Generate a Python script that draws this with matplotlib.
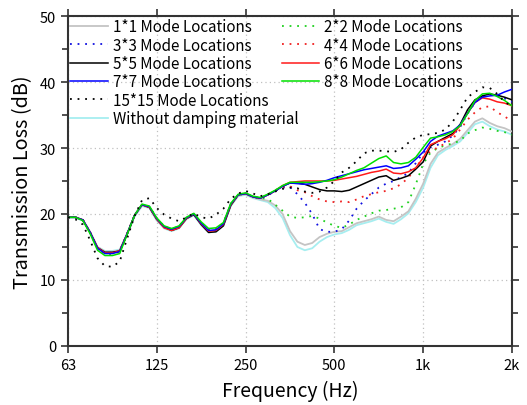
import matplotlib.pyplot as plt
from matplotlib.lines import Line2D
from matplotlib.ticker import FixedLocator, MultipleLocator, NullLocator

plt.rcParams['font.family'] = ['Noto Sans CJK JP', 'DejaVu Sans']

# 1/12-octave frequency points (Hz)
freq = [62.5, 66.2, 70.2, 74.3, 78.7, 83.4, 88.4, 93.6, 99.2, 105.1, 111.4, 118.0,
        125, 132.4, 140.3, 148.7, 157.5, 166.9, 176.8, 187.3, 198.4, 210.2, 222.7, 236.0,
        250, 264.9, 280.6, 297.3, 315.0, 333.7, 353.6, 374.6, 396.9, 420.4, 445.4, 471.9,
        500, 529.7, 561.2, 594.6, 630.0, 667.4, 707.1, 749.2, 793.7, 840.9, 890.9, 943.9,
        1000, 1059, 1122, 1189, 1260, 1335, 1414, 1498, 1587, 1682, 1782, 1888, 2000]

# transmission loss (dB)
tl_1x1 = [19.5, 19.5, 19.1, 17.3, 15.0, 14.3, 14.3, 14.5, 17.0, 19.7, 21.3, 21.0,
          19.1, 17.9, 17.5, 17.9, 19.3, 19.9, 18.4, 17.3, 17.4, 18.3, 21.3, 22.8,
          23.0, 22.5, 22.2, 22.0, 21.3, 20.0, 17.4, 15.8, 15.3, 15.6, 16.5, 17.0,
          17.3, 17.4, 18.0, 18.6, 18.9, 19.2, 19.6, 19.1, 18.9, 19.6, 20.4, 22.3,
          24.6, 27.6, 29.3, 30.0, 30.6, 31.4, 32.7, 34.0, 34.5, 33.8, 33.3, 33.0, 32.5]
tl_2x2 = [19.5, 19.5, 19.1, 17.2, 14.8, 14.0, 14.0, 14.3, 17.0, 19.8, 21.4, 21.1,
          19.3, 18.1, 17.7, 18.1, 19.4, 20.0, 18.6, 17.6, 17.7, 18.5, 21.5, 22.9,
          23.1, 22.6, 22.4, 22.3, 21.4, 20.5, 19.6, 19.4, 19.5, 19.7, 19.3, 18.7,
          18.2, 17.9, 18.4, 19.1, 19.6, 20.1, 20.5, 20.6, 20.8, 21.0, 21.8, 24.5,
          27.6, 29.3, 30.0, 30.4, 30.7, 31.1, 32.2, 32.7, 33.1, 32.9, 32.6, 32.4, 32.0]
tl_3x3 = [19.5, 19.5, 19.1, 17.2, 14.8, 14.0, 14.0, 14.3, 17.0, 19.8, 21.4, 21.1,
          19.3, 18.1, 17.7, 18.1, 19.4, 20.0, 18.6, 17.6, 17.7, 18.5, 21.5, 22.9,
          23.1, 22.6, 22.4, 22.8, 23.5, 24.0, 24.1, 23.0, 21.7, 20.0, 17.7, 17.3,
          17.3, 17.7, 19.0, 20.8, 22.0, 23.0, 24.0, 24.6, 25.0, 25.6, 26.2, 27.7,
          29.3, 30.1, 30.5, 31.0, 31.9, 33.2, 35.2, 36.9, 37.8, 38.2, 37.9, 37.5, 37.0]
tl_4x4 = [19.5, 19.5, 19.1, 17.2, 14.8, 14.0, 14.0, 14.3, 17.0, 19.8, 21.4, 21.1,
          19.3, 18.1, 17.7, 18.1, 19.4, 20.0, 18.6, 17.6, 17.7, 18.5, 21.5, 22.9,
          23.1, 22.6, 22.4, 22.9, 23.6, 24.1, 24.2, 23.6, 23.3, 22.7, 22.2, 21.9,
          21.8, 21.9, 21.8, 22.2, 22.7, 23.0, 23.3, 23.5, 23.9, 24.5, 25.5, 27.0,
          28.6, 29.5, 30.1, 30.7, 31.4, 32.8, 34.3, 35.4, 36.2, 36.3, 35.4, 34.8, 34.0]
tl_5x5 = [19.5, 19.5, 19.1, 17.2, 14.9, 14.2, 14.2, 14.4, 17.0, 19.8, 21.4, 21.0,
          19.2, 18.0, 17.5, 17.9, 19.3, 19.9, 18.4, 17.2, 17.3, 18.2, 21.3, 22.9,
          23.1, 22.6, 22.4, 22.9, 23.5, 24.2, 24.7, 24.7, 24.5, 24.1, 23.7, 23.5,
          23.5, 23.4, 23.6, 24.1, 24.6, 25.1, 25.6, 25.8, 25.1, 25.4, 25.8, 26.8,
          27.9, 30.3, 31.0, 31.6, 32.2, 33.6, 35.8, 37.3, 37.9, 38.2, 38.0, 37.7, 37.3]
tl_6x6 = [19.5, 19.5, 19.1, 17.2, 14.9, 14.1, 14.1, 14.4, 17.0, 19.8, 21.4, 21.0,
          19.2, 17.9, 17.5, 17.9, 19.3, 20.0, 18.5, 17.4, 17.5, 18.4, 21.4, 22.9,
          23.1, 22.6, 22.4, 22.9, 23.5, 24.3, 24.8, 24.9, 25.0, 25.0, 25.0, 25.0,
          25.1, 25.3, 25.5, 25.7, 26.0, 26.3, 26.5, 26.8, 26.2, 26.1, 26.4, 27.0,
          28.5, 30.5, 31.0, 31.4, 32.0, 33.4, 35.3, 36.9, 37.6, 37.4, 37.0, 36.8, 36.4]
tl_7x7 = [19.5, 19.5, 19.1, 17.2, 14.8, 14.0, 14.0, 14.3, 17.0, 19.8, 21.4, 21.1,
          19.3, 18.1, 17.7, 18.1, 19.4, 20.0, 18.6, 17.5, 17.6, 18.5, 21.5, 22.9,
          23.1, 22.6, 22.4, 22.9, 23.5, 24.2, 24.7, 24.6, 24.5, 24.6, 24.8, 25.1,
          25.5, 25.8, 26.1, 26.4, 26.7, 26.9, 27.1, 27.3, 26.9, 27.0, 27.3, 28.3,
          29.4, 31.0, 31.8, 32.2, 32.6, 33.5, 35.3, 36.9, 37.7, 37.9, 38.0, 38.5, 38.9]
tl_8x8 = [19.5, 19.5, 19.0, 17.0, 14.5, 13.7, 13.7, 14.0, 16.9, 19.8, 21.5, 21.2,
          19.4, 18.2, 17.8, 18.2, 19.5, 20.1, 18.8, 17.8, 17.9, 18.7, 21.6, 23.0,
          23.2, 22.7, 22.5, 23.0, 23.6, 24.3, 24.8, 24.8, 24.8, 24.8, 24.9, 25.0,
          25.2, 25.6, 26.1, 26.6, 27.0, 27.7, 28.4, 28.8, 27.8, 27.6, 27.8, 28.6,
          30.1, 31.5, 31.7, 32.0, 32.5, 33.4, 35.2, 37.2, 38.2, 38.3, 37.8, 37.2, 36.4]
tl_15x15 = [19.5, 19.2, 18.4, 16.0, 13.3, 12.1, 12.0, 12.8, 16.3, 19.7, 22.1, 22.4,
            20.9, 19.9, 19.3, 18.9, 19.5, 20.1, 19.5, 19.3, 19.9, 20.8, 22.3, 23.1,
            23.5, 23.1, 22.7, 23.0, 23.4, 23.8, 24.0, 23.9, 23.4, 23.2, 23.4, 24.0,
            25.0, 26.3, 27.0, 28.0, 29.2, 29.6, 29.6, 29.5, 29.4, 29.8, 30.8, 31.6,
            32.0, 32.1, 32.3, 32.8, 34.0, 35.8, 37.7, 38.5, 39.2, 39.1, 38.2, 37.0, 36.3]
tl_none = [19.4, 19.4, 19.0, 17.2, 15.0, 14.4, 14.4, 14.6, 17.0, 19.6, 21.2, 20.9,
           19.0, 17.8, 17.4, 17.8, 19.2, 19.8, 18.3, 17.2, 17.3, 18.2, 21.2, 22.7,
           22.9, 22.4, 22.1, 21.8, 20.9, 19.4, 16.8, 15.0, 14.5, 14.8, 15.8, 16.5,
           16.9, 17.1, 17.6, 18.3, 18.6, 18.9, 19.3, 18.8, 18.5, 19.2, 20.1, 21.8,
           24.0, 27.0, 28.9, 29.7, 30.3, 31.0, 32.3, 33.6, 34.0, 33.3, 32.8, 32.5, 32.0]

tick_freqs = [62.5, 125, 250, 500, 1000, 2000]
tick_labels = ['63', '125', '250', '500', '1k', '2k']

dot = (0, (1, 3.2))

fig = plt.figure(figsize=(5.27, 4.06), dpi=100)
ax = fig.add_axes([0.129, 0.1455, 0.8425, 0.8125])

ax.plot(freq, tl_none, color='#a6eef0', lw=1.3, label='Without damping material', zorder=2)
ax.plot(freq, tl_1x1, color='#c4c4c4', lw=1.3, label='1*1 Mode Locations', zorder=3)
ax.plot(freq, tl_2x2, color='#1ed01e', lw=1.3, ls=dot, label='2*2 Mode Locations', zorder=3)
ax.plot(freq, tl_3x3, color='#1010e0', lw=1.3, ls=dot, label='3*3 Mode Locations', zorder=3)
ax.plot(freq, tl_4x4, color='#f02020', lw=1.3, ls=dot, label='4*4 Mode Locations', zorder=3)
ax.plot(freq, tl_5x5, color='black', lw=1.1, label='5*5 Mode Locations', zorder=4)
ax.plot(freq, tl_6x6, color='#ff1a1a', lw=1.1, label='6*6 Mode Locations', zorder=4)
ax.plot(freq, tl_7x7, color='#0000ff', lw=1.1, label='7*7 Mode Locations', zorder=4)
ax.plot(freq, tl_8x8, color='#00e000', lw=1.1, label='8*8 Mode Locations', zorder=5)
ax.plot(freq, tl_15x15, color='black', lw=1.3, ls=dot, label='15*15 Mode Locations', zorder=5)

ax.set_xscale('log')
ax.set_xlim(62.5, 2000)
ax.set_ylim(0, 50)
ax.xaxis.set_major_locator(FixedLocator(tick_freqs))
ax.xaxis.set_minor_locator(NullLocator())
ax.set_xticklabels(tick_labels)
ax.yaxis.set_major_locator(MultipleLocator(10))
ax.yaxis.set_minor_locator(MultipleLocator(5))

ax.tick_params(which='both', direction='out', top=True, right=True,
               labelsize=10.5, color='#333333', width=1.2)
ax.tick_params(which='major', length=5)
ax.tick_params(which='minor', length=4)
for s in ax.spines.values():
    s.set_color('#333333')
    s.set_linewidth(1.5)

ax.grid(True, which='major', color='#c0c0c0', ls=(0, (1, 2.5)), lw=0.9)

ax.set_xlabel('Frequency (Hz)', fontsize=14, labelpad=6)
ax.set_ylabel('Transmission Loss (dB)', fontsize=14.3, labelpad=5)

# legend in row order: odd grids left column, even grids right column
h = {l.get_label(): l for l in ax.get_lines()}
blank = Line2D([], [], ls='none')
left = ['1*1 Mode Locations', '3*3 Mode Locations', '5*5 Mode Locations',
        '7*7 Mode Locations', '15*15 Mode Locations', 'Without damping material']
right = ['2*2 Mode Locations', '4*4 Mode Locations', '6*6 Mode Locations',
         '8*8 Mode Locations']
handles = [h[k] for k in left] + [h[k] for k in right] + [blank, blank]
labels = left + right + ['', '']
ax.legend(handles, labels, ncol=2, loc='upper left', frameon=False,
          fontsize=10.9, handlelength=2.5, handletextpad=0.3, columnspacing=-1.1,
          labelspacing=0.09, borderaxespad=0.05, borderpad=0.1)

fig.savefig('out.png', dpi=100)
